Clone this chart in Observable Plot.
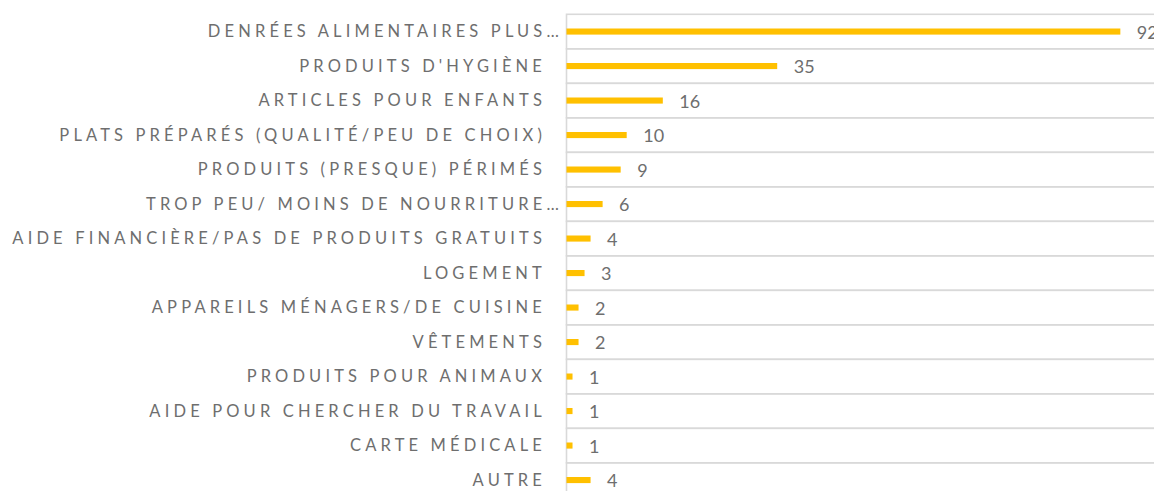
<!DOCTYPE html>
<html>
<head>
<meta charset="utf-8">
<script src="https://cdn.jsdelivr.net/npm/d3@7"></script>
<script src="https://cdn.jsdelivr.net/npm/@observablehq/plot@0.6"></script>
<style>
  html, body { margin: 0; padding: 0; background: #fff; overflow: hidden; }
  #chart svg { display: block; }
</style>
</head>
<body>
<div id="chart"></div>
<script>
const categories = [
  "DENRÉES ALIMENTAIRES PLUS…",
  "PRODUITS D'HYGIÈNE",
  "ARTICLES POUR ENFANTS",
  "PLATS PRÉPARÉS (QUALITÉ/PEU DE CHOIX)",
  "PRODUITS (PRESQUE) PÉRIMÉS",
  "TROP PEU/ MOINS DE NOURRITURE…",
  "AIDE FINANCIÈRE/PAS DE PRODUITS GRATUITS",
  "LOGEMENT",
  "APPAREILS MÉNAGERS/DE CUISINE",
  "VÊTEMENTS",
  "PRODUITS POUR ANIMAUX",
  "AIDE POUR CHERCHER DU TRAVAIL",
  "CARTE MÉDICALE",
  "AUTRE"
];
const values = [92, 35, 16, 10, 9, 6, 4, 3, 2, 2, 1, 1, 1, 4];
const xDomain = [0, 100];

const data = categories.map((c, i) => ({cat: c, value: values[i]}));
const isTruncated = d => d.cat.endsWith("…");

const gray = "#6E6E6E";
const grid = "#D9D9D9";
const gold = "#FFC000";

const chart = Plot.plot({
  width: 1154,
  height: 491,
  marginTop: 0, marginBottom: 0, marginLeft: 0, marginRight: 0,
  style: {background: "#fff", overflow: "hidden"},
  x: {domain: xDomain, range: [566.5, 1168.5], axis: null},
  y: {domain: categories, range: [14.3, 497.3], padding: 0, round: false, axis: null},
  marks: [
    Plot.barX(data, {x1: xDomain[0], x2: xDomain[1], y: "cat", fill: "none", stroke: grid, strokeWidth: 1.6}),
    Plot.barX(data, {x: "value", y: "cat", fill: gold, insetTop: 14.2, insetBottom: 14.2}),
    Plot.text(data.filter(d => !isTruncated(d)), {x: xDomain[0], y: "cat", text: "cat", textAnchor: "end", dx: -21, dy: 0,
      fill: gray, fontSize: 16.5, fontFamily: "Lato", ariaDescription: "catlabels"}),
    Plot.text(data.filter(isTruncated), {x: xDomain[0], y: "cat", text: "cat", textAnchor: "end", dx: -4, dy: 0,
      fill: gray, fontSize: 16.5, fontFamily: "Lato", ariaDescription: "catlabels"}),
    Plot.text(data, {x: "value", y: "cat", text: d => String(d.value), textAnchor: "start", dx: 16, dy: 1,
      fill: gray, fontSize: 18, fontFamily: "Lato"})
  ]
});
d3.select(chart).selectAll('g[aria-description="catlabels"] text').style("letter-spacing", "4.15px");
document.getElementById("chart").appendChild(chart);
</script>
</body>
</html>
